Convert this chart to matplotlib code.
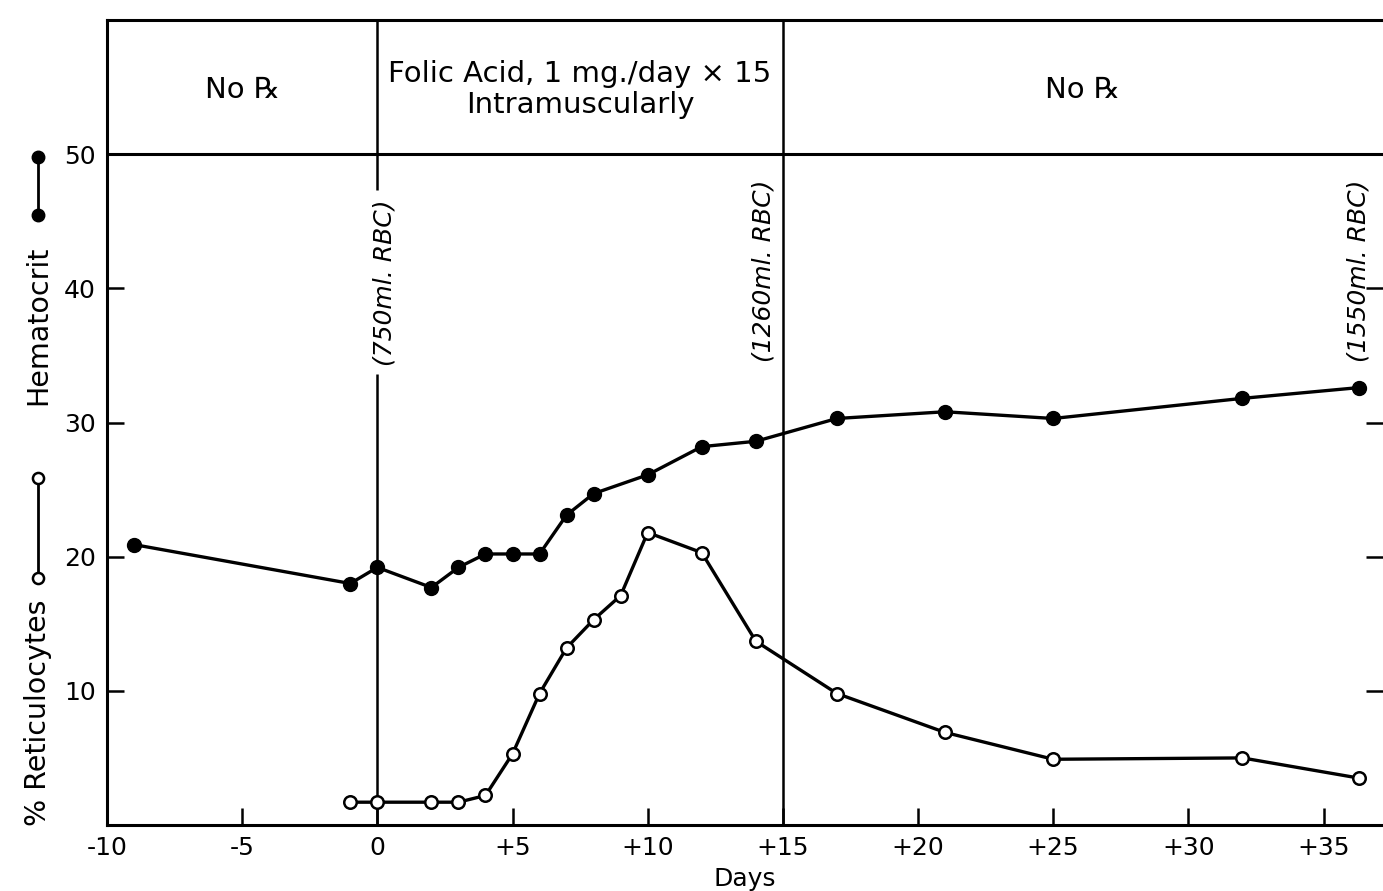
import matplotlib
matplotlib.use("Agg")
import matplotlib.pyplot as plt
from matplotlib.lines import Line2D

# data
days_hct = [-9, -1, 0, 2, 3, 4, 5, 6, 7, 8, 10, 12, 14, 17, 21, 25, 32, 36.3]
hematocrit = [20.9, 18.0, 19.2, 17.7, 19.2, 20.2, 20.2, 20.2, 23.1, 24.7, 26.1, 28.2, 28.6,
              30.3, 30.8, 30.3, 31.8, 32.6]
days_ret = [-1, 0, 2, 3, 4, 5, 6, 7, 8, 9, 10, 12, 14, 17, 21, 25, 32, 36.3]
reticulocytes = [1.7, 1.7, 1.7, 1.7, 2.2, 5.3, 9.8, 13.2, 15.3, 17.1, 21.8, 20.3, 13.7,
                 9.8, 6.9, 4.9, 5.0, 3.5]

x_ticks = [-10, -5, 0, 5, 10, 15, 20, 25, 30, 35]
x_labels = ["-10", "-5", "0", "+5", "+10", "+15", "+20", "+25", "+30", "+35"]
y_ticks = [10, 20, 30, 40, 50]

phases = ["No \u211e", "Folic Acid, 1 mg./day \u00d7 15\nIntramuscularly", "No \u211e"]
phase_x = [-5, 7.5, 26.1]
rbc_labels = ["(750ml. RBC)", "(1260ml. RBC)", "(1550ml. RBC)"]
rbc_x = [0.25, 14.3, 36.3]
rbc_y = [40.4, 41.3, 41.3]

plt.rcParams["font.family"] = ["DejaVu Sans"]

fig = plt.figure(figsize=(13.83, 8.91), dpi=100)
ax = fig.add_axes([107 / 1383, 66 / 891, 1 - 107 / 1383, (891 - 20 - 66) / 891])
ax.set_xlim(-10, 37.2)
ax.set_ylim(0, 60)

for s in ["left", "bottom", "top"]:
    ax.spines[s].set_linewidth(2.2)
ax.spines["right"].set_visible(False)

ax.set_xticks(x_ticks)
ax.set_xticklabels(x_labels)
ax.set_yticks(y_ticks)
ax.tick_params(direction="in", length=12, width=1.8, labelsize=18, pad=8,
               right=True, labelright=False)

# header and period separators
ax.axhline(50, color="black", lw=2.2)
ax.vlines(0, 0, 33.6, color="black", lw=1.8)
ax.vlines(0, 47.3, 60, color="black", lw=1.8)
ax.axvline(15, color="black", lw=1.8)

for x, t in zip(phase_x, phases):
    ax.text(x, 54.8, t, ha="center", va="center", fontsize=21, linespacing=1.15)
for x, y, t in zip(rbc_x, rbc_y, rbc_labels):
    ax.text(x, y, t, rotation=90, ha="center", va="center", fontsize=18, style="italic")

ax.plot(days_hct, hematocrit, color="black", lw=2.4, marker="o", ms=10, mfc="black")
ax.plot(days_ret, reticulocytes, color="black", lw=2.4, marker="o", ms=9, mfc="white",
        mew=1.8)

ax.set_xlabel("Days", fontsize=18, labelpad=5)

# y-axis legend label built from pieces
fx = 38 / 1383
fig.text(fx, 1 - 713 / 891, "% Reticulocytes", rotation=90, ha="center", va="center", fontsize=20.5)
fig.text(fx, 1 - 325 / 891, "Hematocrit", rotation=90, ha="center", va="center", fontsize=20.5)
fig.add_artist(Line2D([fx, fx], [1 - 578 / 891, 1 - 478 / 891], transform=fig.transFigure,
                      color="black", lw=2, marker="o", ms=8, mfc="white", mew=1.8))
fig.add_artist(Line2D([fx, fx], [1 - 215 / 891, 1 - 157 / 891], transform=fig.transFigure,
                      color="black", lw=2, marker="o", ms=9, mfc="black"))

fig.savefig("out.png", dpi=100)
